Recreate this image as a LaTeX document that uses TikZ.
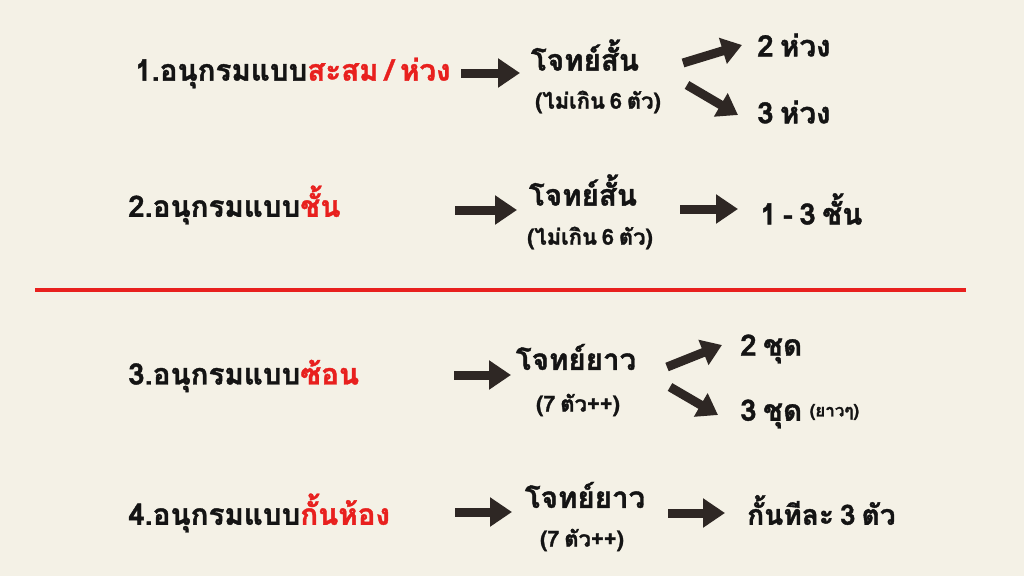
\documentclass[tikz,border=0pt]{standalone}
\usepackage{fontspec}
\setmainfont[Script=Thai,WordSpace=0.65,BoldFeatures={FakeBold=1.3}]{Loma}
\usetikzlibrary{arrows.meta}
\definecolor{bg}{HTML}{F4F1E6}
\definecolor{arrowc}{HTML}{2E2724}
\definecolor{redc}{HTML}{E8201E}
\definecolor{txt}{HTML}{141414}
\begin{document}
\begin{tikzpicture}[x=1pt,y=-1pt,
 big/.style={font=\fontsize{29.5}{33}\selectfont\bfseries, text=txt, inner sep=0pt},
 sub/.style={font=\fontsize{22}{25}\selectfont\bfseries, text=txt, inner sep=0pt},
 tiny/.style={font=\fontsize{17}{19}\selectfont\bfseries, text=txt, inner sep=0pt},
 arr/.style={draw=arrowc, line width=9pt, -{Triangle[length=22pt,width=28pt]}},
 darr/.style={draw=arrowc, line width=9pt, -{Triangle[length=20pt,width=26pt]}},
]
\fill[bg] (0,0) rectangle (1024,576);
\useasboundingbox (0,0) rectangle (1024,576);
% row 1
\node[big, anchor=west] (L1) at (135,73) {1.อนุกรมแบบ\textcolor{redc}{สะสม / ห่วง}};
\node[big] (J1) at (585,55) {โจทย์สั้น};
\node[sub] (S1) at (598,102) {(ไม่เกิน 6 ตัว)};
\node[big, anchor=west] (R1a) at (757,45) {2 ห่วง};
\node[big, anchor=west] (R1b) at (757,112) {3 ห่วง};
\coordinate (a1s) at (461,73); \coordinate (a1e) at (520,73);
\coordinate (b1s) at (683,63); \coordinate (b1e) at (742,45);
\coordinate (c1s) at (687,85); \coordinate (c1e) at (738,115);
\draw[arr] (a1s) -- (a1e);
\draw[darr] (b1s) -- (b1e);
\draw[darr] (c1s) -- (c1e);
% row 2
\node[big, anchor=west] (L2) at (128,205) {2.อนุกรมแบบ\textcolor{redc}{ชั้น}};
\node[big] (J2) at (583,190) {โจทย์สั้น};
\node[sub] (S2) at (590,238) {(ไม่เกิน 6 ตัว)};
\node[big, anchor=west] (R2) at (760,209) {1 - 3 ชั้น};
\coordinate (a2s) at (455,210); \coordinate (a2e) at (517,210);
\coordinate (b2s) at (680,209); \coordinate (b2e) at (738,209);
\draw[arr] (a2s) -- (a2e);
\draw[arr] (b2s) -- (b2e);
% divider
\coordinate (d1) at (35,290); \coordinate (d2) at (966,290);
\draw[redc, line width=4pt] (d1) -- (d2);
% row 3
\node[big, anchor=west] (L3) at (128,376) {3.อนุกรมแบบ\textcolor{redc}{ซ้อน}};
\node[big] (J3) at (576,357) {โจทย์ยาว};
\node[sub] (S3) at (578,405) {(7 ตัว++)};
\node[big, anchor=west] (R3a) at (740,349) {2 ชุด};
\node[big, anchor=west] (R3b) at (740,414) {3 ชุด};
\node[tiny, anchor=west] (R3c) at ([xshift=7pt,yshift=2pt]R3b.east) {(ยาวๆ)};
\coordinate (a3s) at (454,375); \coordinate (a3e) at (511,375);
\coordinate (b3s) at (667,367); \coordinate (b3e) at (722,345);
\coordinate (c3s) at (670,387); \coordinate (c3e) at (718,415);
\draw[arr] (a3s) -- (a3e);
\draw[darr] (b3s) -- (b3e);
\draw[darr] (c3s) -- (c3e);
% row 4
\node[big, anchor=west] (L4) at (128,513) {4.อนุกรมแบบ\textcolor{redc}{กั้นห้อง}};
\node[big] (J4) at (585,495) {โจทย์ยาว};
\node[sub] (S4) at (582,540) {(7 ตัว++)};
\node[big, anchor=west, font=\fontsize{28}{31}\selectfont\bfseries] (R4) at (747,510) {กั้นทีละ 3 ตัว};
\coordinate (a4s) at (455,512); \coordinate (a4e) at (512,512);
\coordinate (b4s) at (668,513); \coordinate (b4e) at (725,513);
\draw[arr] (a4s) -- (a4e);
\draw[arr] (b4s) -- (b4e);
\end{tikzpicture}
\end{document}
